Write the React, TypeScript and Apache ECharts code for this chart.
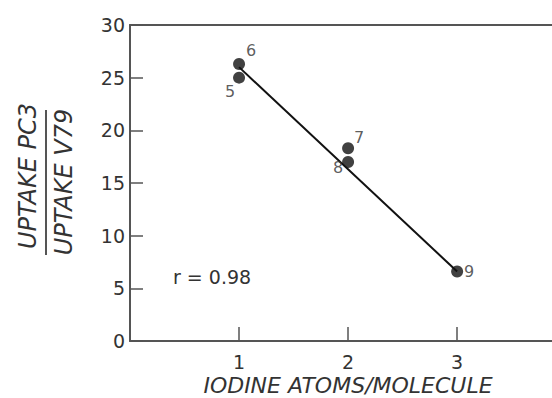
import React, { useEffect, useRef } from "react";
import * as echarts from "echarts";

const pointX = [1, 1, 2, 2, 3];
const pointY = [25.0, 26.3, 18.3, 17.0, 6.6];
const pointLabels = ["5", "6", "7", "8", "9"];
const fitX = [1, 3];
const fitY = [26.0, 6.6];
const xTicks = [1, 2, 3];
const yTicks = [0, 5, 10, 15, 20, 25, 30];
const xTitle = "IODINE ATOMS/MOLECULE";
const yTitleTop = "UPTAKE PC3";
const yTitleBottom = "UPTAKE V79";
const rText = "r = 0.98";

const labelOffsets: Record<string, [number, number]> = {
  "5": [-9, 14],
  "6": [12, -13],
  "7": [11, -11],
  "8": [-10, 6],
  "9": [12, 0],
};

export default function App() {
  const ref = useRef<HTMLDivElement>(null);
  useEffect(() => {
    if (!ref.current) return;
    const chart = echarts.init(ref.current, null, { renderer: "svg" });
    const axisColor = "#555";
    const textColor = "#333";
    chart.setOption({
      animation: false,
      grid: { left: 130, right: 0, top: 25, bottom: 57 },
      xAxis: [
        {
          type: "value",
          min: 0,
          max: 3.87,
          splitLine: { show: false },
          axisLine: { lineStyle: { color: axisColor, width: 2 } },
          axisTick: {
            inside: true,
            length: 14,
            customValues: xTicks,
            lineStyle: { color: axisColor, width: 1.5 },
          },
          axisLabel: {
            margin: 11,
            color: textColor,
            fontFamily: "DejaVu Sans",
            fontSize: 19,
            customValues: xTicks,
            formatter: (v: number) => String(v),
          },
        },
        {
          type: "value",
          position: "top",
          min: 0,
          max: 3.87,
          splitLine: { show: false },
          axisLine: { show: true, lineStyle: { color: axisColor, width: 2 } },
          axisTick: { show: false },
          axisLabel: { show: false },
        },
      ],
      yAxis: {
        type: "value",
        min: 0,
        max: 30,
        interval: 5,
        splitLine: { show: false },
        axisLine: { show: true, lineStyle: { color: axisColor, width: 2 } },
        axisTick: { inside: true, length: 13, lineStyle: { color: axisColor, width: 1.5 } },
        axisLabel: {
          margin: 5,
          color: textColor,
          fontFamily: "DejaVu Sans",
          fontSize: 19,
          formatter: (v: number) => (yTicks.includes(v) ? String(v) : ""),
        },
      },
      series: [
        {
          type: "line",
          data: fitX.map((x, i) => [x, fitY[i]]),
          symbol: "none",
          lineStyle: { color: "#111", width: 2 },
          z: 2,
        },
        {
          type: "scatter",
          symbolSize: 12,
          itemStyle: { color: "#111" },
          z: 3,
          data: pointX.map((x, i) => ({
            value: [x, pointY[i]],
            label: {
              show: true,
              position: "inside",
              offset: labelOffsets[pointLabels[i]],
              formatter: pointLabels[i],
              color: textColor,
              fontFamily: "DejaVu Sans",
              fontSize: 16,
            },
          })),
        },
      ],
      graphic: [
        {
          type: "text",
          x: 28,
          y: 176,
          rotation: Math.PI / 2,
          style: {
            text: yTitleTop,
            fontFamily: "DejaVu Sans",
            fontStyle: "italic",
            fontSize: 24,
            fill: textColor,
            textAlign: "center",
            textVerticalAlign: "middle",
          },
        },
        {
          type: "line",
          shape: { x1: 46, y1: 110, x2: 46, y2: 255 },
          style: { stroke: axisColor, lineWidth: 2 },
        },
        {
          type: "text",
          x: 64,
          y: 182,
          rotation: Math.PI / 2,
          style: {
            text: yTitleBottom,
            fontFamily: "DejaVu Sans",
            fontStyle: "italic",
            fontSize: 24,
            fill: textColor,
            textAlign: "center",
            textVerticalAlign: "middle",
          },
        },
        {
          type: "text",
          x: 348,
          y: 385,
          style: {
            text: xTitle,
            fontFamily: "DejaVu Sans",
            fontStyle: "italic",
            fontSize: 22,
            fill: textColor,
            textAlign: "center",
            textVerticalAlign: "middle",
          },
        },
        {
          type: "text",
          x: 173,
          y: 277,
          style: {
            text: rText,
            fontFamily: "DejaVu Sans",
            fontSize: 19,
            fill: textColor,
            textAlign: "left",
            textVerticalAlign: "middle",
          },
        },
      ],
    });
    return () => chart.dispose();
  }, []);
  return <div ref={ref} style={{ width: 552, height: 398, position: "absolute", left: 0, top: 0 }} />;
}
